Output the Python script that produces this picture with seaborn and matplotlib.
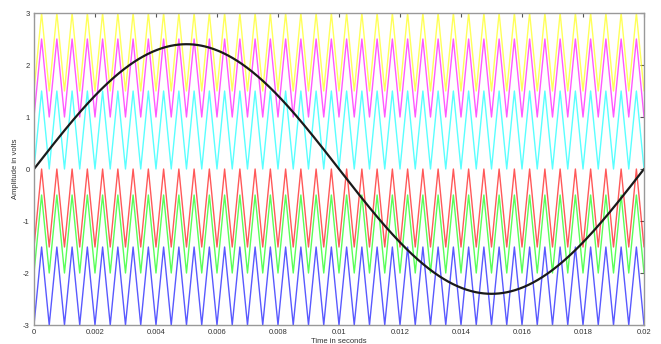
import numpy as np
import pandas as pd
import matplotlib.pyplot as plt
import seaborn as sns

# reference sine
ref_amplitude = 2.4
ref_freq = 50
t_end = 0.02

# triangular carriers, all in phase
carrier_freq = 2000
carrier_span = 1.5
carrier_bottoms = [-3.0, -2.0, -1.5, 0.0, 1.0, 1.5]
carrier_colors = ["blue", "lime", "red", "cyan", "magenta", "yellow"]

x_ticks = [0, 0.002, 0.004, 0.006, 0.008, 0.01, 0.012, 0.014, 0.016, 0.018, 0.02]
x_tick_labels = ["0", "0.002", "0.004", "0.006", "0.008", "0.01",
                 "0.012", "0.014", "0.016", "0.018", "0.02"]
y_ticks = [-3, -2, -1, 0, 1, 2, 3]

sns.set_style("white")
plt.rcParams["font.family"] = ["Liberation Sans", "DejaVu Sans"]
plt.rcParams["axes.unicode_minus"] = False

# carrier vertices: min at t=0, max at half period
half = 1 / carrier_freq / 2
t_vert = np.arange(0, t_end + half / 2, half)
phase = np.arange(len(t_vert)) % 2

fig = plt.figure(figsize=(6.61, 3.44), dpi=100)
ax = fig.add_axes([0.0514, 0.0552, 0.9229, 0.907])

for bottom, col in zip(carrier_bottoms, carrier_colors):
    df = pd.DataFrame({"t": t_vert, "v": bottom + phase * carrier_span})
    sns.lineplot(data=df, x="t", y="v", color=col, lw=1.0, alpha=0.65,
                 sort=False, estimator=None, ax=ax)

t = np.linspace(0, t_end, 800)
ref = pd.DataFrame({"t": t, "v": ref_amplitude * np.sin(2 * np.pi * ref_freq * t)})
sns.lineplot(data=ref, x="t", y="v", color="#1a1a1a", lw=1.6,
             sort=False, estimator=None, ax=ax)

ax.set_xlim(0, t_end)
ax.set_ylim(-3, 3)
ax.set_xticks(x_ticks)
ax.set_xticklabels(x_tick_labels)
ax.set_yticks(y_ticks)
ax.tick_params(direction="in", length=3, width=0.8, color="#555555",
               labelsize=5.5, labelcolor="#333333", top=True, right=True, pad=3)
for s in ax.spines.values():
    s.set_color("#999999")
    s.set_linewidth(1.0)
ax.set_xlabel("Time in seconds", fontsize=5.5, color="#333333", labelpad=1)
ax.set_ylabel("Amplitude in volts", fontsize=5.5, color="#333333", labelpad=3)

fig.savefig("out.png", dpi=100)
